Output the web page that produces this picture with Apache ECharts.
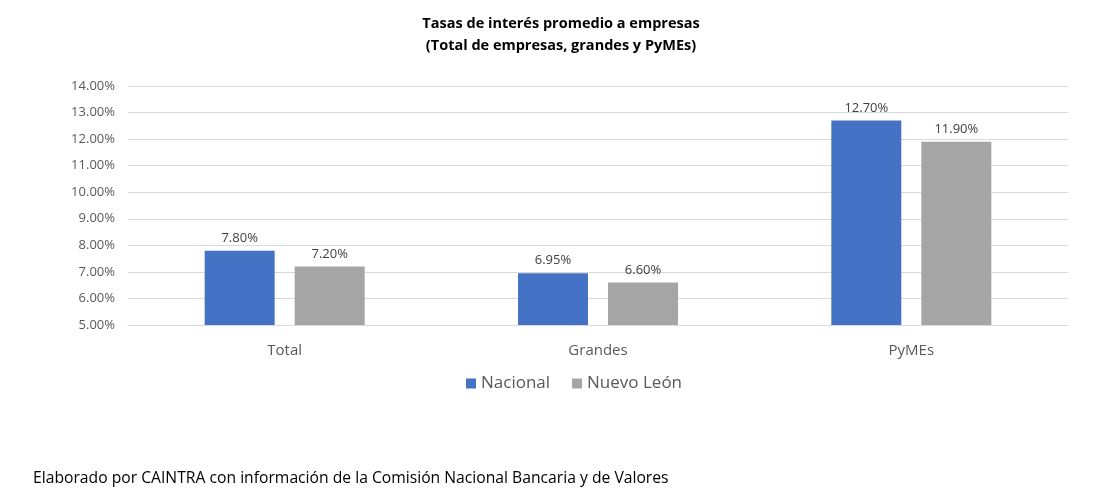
<!DOCTYPE html>
<html>
<head>
<meta charset="utf-8">
<script src="https://cdn.jsdelivr.net/npm/echarts@6/dist/echarts.min.js"></script>
<style>html,body{margin:0;padding:0;background:#fff;}#c{width:1107px;height:498px;}</style>
</head>
<body>
<div id="c"></div>
<script>
const categories = ['Total', 'Grandes', 'PyMEs'];
const nacional = [7.80, 6.95, 12.70];
const nuevoLeon = [7.20, 6.60, 11.90];
const seriesNames = ['Nacional', 'Nuevo León'];
const yMin = 5, yMax = 14, yStep = 1;

const FONT = '"Open Sans", "Liberation Sans", sans-serif';
const chart = echarts.init(document.getElementById('c'));
const fmt = v => Number(v).toFixed(2) + '%';
chart.setOption({
  animation: false,
  textStyle: { fontFamily: FONT },
  title: [{
    text: 'Tasas de interés promedio a empresas\n(Total de empresas, grandes y PyMEs)',
    left: 556, top: 8, textAlign: 'center',
    textStyle: { fontFamily: FONT, fontSize: 14.5, fontWeight: 'bold', color: '#000', lineHeight: 22 }
  }, {
    text: 'Elaborado por CAINTRA con información de la Comisión Nacional Bancaria y de Valores',
    left: 28, top: 466,
    textStyle: { fontFamily: FONT, fontSize: 15.7, fontWeight: 'normal', color: '#000' }
  }],
  legend: {
    data: seriesNames, left: 461, top: 370, itemWidth: 10, itemHeight: 10, itemGap: 22,
    icon: 'rect',
    textStyle: { fontFamily: FONT, fontSize: 17, color: '#595959' }
  },
  grid: { left: 128, right: 39, top: 86, bottom: 173, containLabel: false },
  xAxis: {
    type: 'category', data: categories,
    axisLine: { lineStyle: { color: '#d9d9d9' } },
    axisTick: { show: false },
    axisLabel: { fontFamily: FONT, fontSize: 15, color: '#595959', margin: 18 }
  },
  yAxis: {
    type: 'value', min: yMin, max: yMax, interval: yStep,
    axisLine: { show: false }, axisTick: { show: false },
    splitLine: { lineStyle: { color: '#d9d9d9' } },
    axisLabel: { fontFamily: FONT, fontSize: 13, color: '#595959', margin: 13, formatter: v => v.toFixed(2) + '%' }
  },
  series: [{
    name: seriesNames[0], type: 'bar', data: nacional, barWidth: 70, barGap: '28.6%',
    itemStyle: { color: '#4472C4' },
    label: { show: true, position: 'top', distance: 6, fontFamily: FONT, fontSize: 13, color: '#404040', formatter: p => fmt(p.value) }
  }, {
    name: seriesNames[1], type: 'bar', data: nuevoLeon, barWidth: 70,
    itemStyle: { color: '#A5A5A5' },
    label: { show: true, position: 'top', distance: 6, fontFamily: FONT, fontSize: 13, color: '#404040', formatter: p => fmt(p.value) }
  }]
});
</script>
</body>
</html>
